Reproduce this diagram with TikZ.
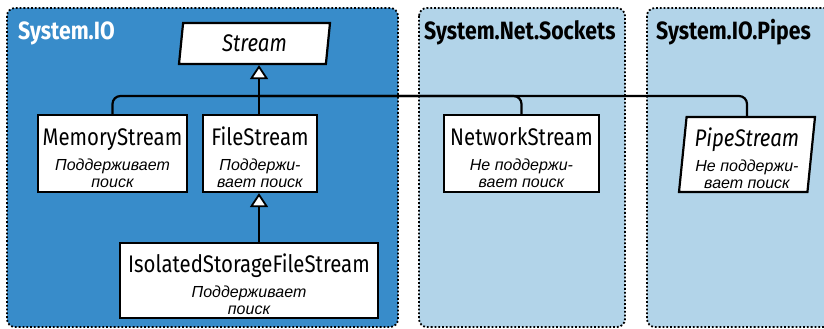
\documentclass[tikz,border=0pt]{standalone}
\usepackage{fontspec}
\setmainfont{Fira Sans}[FakeStretch=0.85]
\newfontfamily\descfont{Liberation Sans}
\usetikzlibrary{arrows.meta,shapes.geometric}
\definecolor{darkpanel}{RGB}{56,140,202}
\definecolor{lightpanel}{RGB}{178,212,233}
\newcommand\nmfont{\rmfamily\upshape\fontsize{24}{17}\selectfont\rule{0pt}{26pt}}
\newcommand\dsfont{\descfont\itshape\fontsize{16}{17}\selectfont}
\tikzset{
  x=1pt,y=-1pt,
  panel/.style={draw=black, line width=1.8pt, dotted, rounded corners=8pt},
  cls/.style={draw=black, fill=white, line width=2.2pt, align=center, inner sep=2pt, font=\dsfont},
  absc/.style={cls, trapezium, trapezium stretches body},
  conn/.style={line width=2.2pt, rounded corners=8pt},
  inh/.style={line width=2.2pt, -{Triangle[length=14pt,width=18pt,fill=white,line width=1.8pt]}},
  ttl/.style={anchor=base west, font=\fontsize{25}{27}\selectfont\bfseries, inner sep=0pt},
}
\begin{document}
\begin{tikzpicture}
\useasboundingbox (0,0) rectangle (824,329);
% panels
\draw[panel, fill=darkpanel] (7,8) rectangle (398,327);
\draw[panel, fill=lightpanel] (419,8) rectangle (625,327);
\draw[panel, fill=lightpanel] (647,8) rectangle (850,327);
\node[ttl, text=white] (t1) at (18,40) {System.IO};
\node[ttl] (t2) at (424,40) {System.Net.Sockets};
\node[ttl] (t3) at (656,40) {System.IO.Pipes};
% classes
\node[absc, trapezium left angle=79, trapezium right angle=101, minimum width=151, minimum height=41] (stream) at (254.5,43.5) {\rmfamily\itshape\fontsize{24}{17}\selectfont Stream};
\node[cls, minimum width=149, minimum height=77] (mem) at (112.5,153.5)
  {\nmfont MemoryStream\\[8pt]\dsfont Поддерживает\\\dsfont поиск};
\node[cls, minimum width=114, minimum height=77] (file) at (260,153.5)
  {\nmfont FileStream\\[8pt]\dsfont Поддержи-\\\dsfont вает поиск};
\node[cls, minimum width=258, minimum height=75] (iso) at (249,280.5)
  {\nmfont IsolatedStorageFileStream\\[8pt]\dsfont Поддерживает\\\dsfont поиск};
\node[cls, minimum width=155, minimum height=77] (net) at (521.5,153.5)
  {\nmfont NetworkStream\\[8pt]\dsfont Не поддержи-\\\dsfont вает поиск};
\node[absc, trapezium left angle=84, trapezium right angle=96, minimum width=136, minimum height=75] (pipe) at (747,154.5)
  {\nmfont\itshape PipeStream\\[8pt]\dsfont Не поддержи-\\\dsfont вает поиск};
% connectors
\coordinate (bus) at (259,96);
\draw[conn] (mem.north) |- (bus) -| (pipe.north);
\draw[conn] (bus) -| (net.north);
\draw[inh] (file.north -| bus) -- (bus |- stream.south);
\draw[inh] (iso.north -| bus) -- (bus |- file.south);
\end{tikzpicture}
\end{document}
